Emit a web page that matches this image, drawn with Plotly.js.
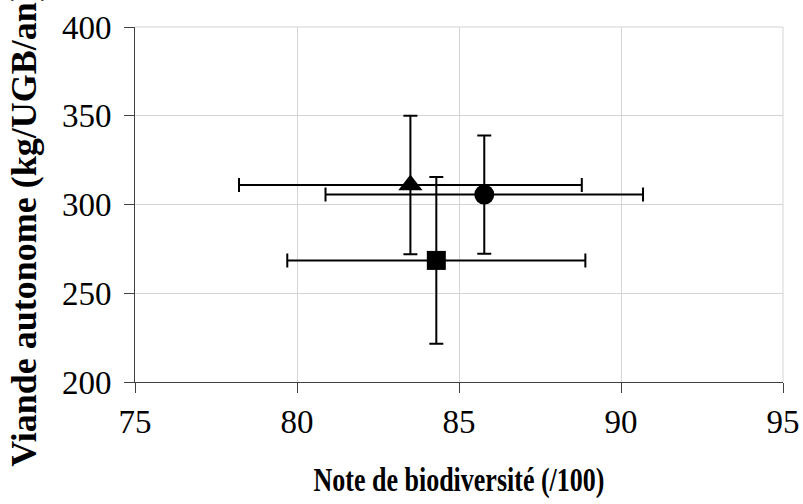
<!DOCTYPE html>
<html>
<head>
<meta charset="utf-8">
<script src="https://cdn.plot.ly/plotly-3.0.1.min.js"></script>
<style>
html,body{margin:0;padding:0;background:#fff;}
#chart{width:803px;height:504px;}
</style>
</head>
<body>
<div id="chart"></div>
<script>
// Data
const seriesNames = ["Triangle", "Cercle", "Carré"];
const biodiversite = [83.5, 85.78, 84.3];
const biodiversiteErr = [5.29, 4.9, 4.6];
const viande = [311, 305.6, 268.5];
const viandeErr = [39, 33.3, 47];
const markerSymbols = ["triangle-up", "circle", "square"];
const markerSizes = [21, 20, 19];

const xTicks = [75, 80, 85, 90, 95];
const yTicks = [200, 250, 300, 350, 400];

const FONT = "Liberation Serif, Times New Roman, serif";

const traces = seriesNames.map((name, i) => ({
  type: "scatter",
  mode: "markers",
  name: name,
  x: [biodiversite[i]],
  y: [viande[i]],
  marker: {symbol: markerSymbols[i], size: markerSizes[i], color: "#000000", line: {width: 0}},
  error_x: {type: "data", array: [biodiversiteErr[i]], visible: true, color: "#000000", thickness: 2, width: 7},
  error_y: {type: "data", array: [viandeErr[i]], visible: true, color: "#000000", thickness: 2, width: 7},
  hoverinfo: "x+y"
}));

const layout = {
  width: 803,
  height: 504,
  paper_bgcolor: "#ffffff",
  plot_bgcolor: "#ffffff",
  showlegend: false,
  margin: {l: 135, r: 20, t: 27, b: 122, pad: 0},
  font: {family: FONT, color: "#000000", size: 30},
  xaxis: {
    range: [75, 95],
    tickvals: xTicks,
    ticktext: xTicks.map(String),
    showgrid: true,
    gridcolor: "#d4d4d4",
    gridwidth: 1,
    zeroline: false,
    showline: true,
    linecolor: "#404040",
    linewidth: 1,
    ticks: "outside",
    ticklen: 10,
    tickcolor: "#404040",
    tickfont: {family: FONT, size: 33, color: "#000000"},
    title: {text: "<b>Note de biodiversité (/100)</b>", font: {family: FONT, size: 26, color: "#000000"}, standoff: 31},
    automargin: false,
    fixedrange: true
  },
  yaxis: {
    range: [200, 400],
    tickvals: yTicks,
    ticktext: yTicks.map(String),
    showgrid: true,
    gridcolor: "#d4d4d4",
    gridwidth: 1,
    zeroline: false,
    showline: true,
    linecolor: "#404040",
    linewidth: 1,
    ticks: "outside",
    ticklen: 10,
    tickcolor: "#404040",
    ticklabelstandoff: 6,
    tickfont: {family: FONT, size: 33, color: "#000000"},
    title: {text: "<b>Viande autonome (kg/UGB/an)</b>", font: {family: FONT, size: 36, color: "#000000"}, standoff: 14},
    automargin: false,
    fixedrange: true
  },
  shapes: [
    {type: "line", xref: "paper", yref: "paper", x0: 1, x1: 1, y0: 0, y1: 1, line: {color: "#d4d4d4", width: 1}, layer: "below"},
    {type: "line", xref: "paper", yref: "paper", x0: 0, x1: 1, y0: 1, y1: 1, line: {color: "#d4d4d4", width: 1}, layer: "below"}
  ]
};

Plotly.newPlot("chart", traces, layout, {displayModeBar: false, staticPlot: true}).then(function (gd) {
  // The reference's y title sits a little below the plot-area centre
  const yt = gd.querySelector(".g-ytitle text");
  if (yt) {
    const t = yt.getAttribute("transform") || "";
    yt.setAttribute("transform", "translate(0,24) " + t);
  }
  // The reference's x title glyphs are drawn taller than wide
  const xt = gd.querySelector(".g-xtitle text");
  if (xt) {
    const r = xt.getBoundingClientRect();
    const parent = xt.parentNode;
    const m = parent.getScreenCTM().inverse();
    const cy = m.d * (r.top + r.height / 2) + m.f;
    const t = xt.getAttribute("transform") || "";
    xt.setAttribute("transform", "translate(0," + cy + ") scale(1,1.3) translate(0," + (-cy) + ") " + t);
  }
});
</script>
</body>
</html>
